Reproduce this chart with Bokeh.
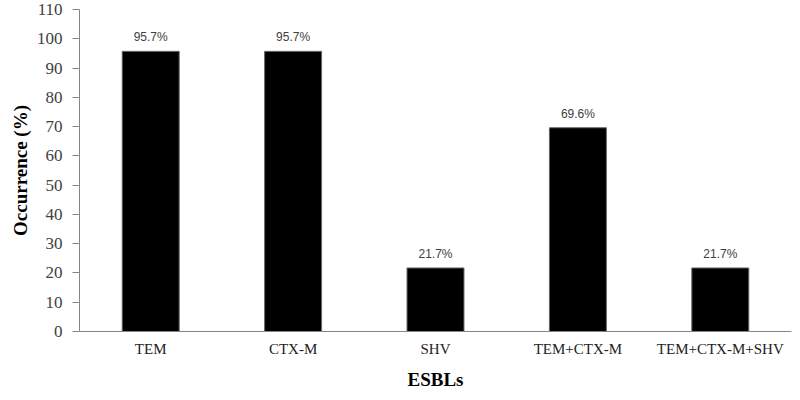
from bokeh.plotting import figure
from bokeh.models import ColumnDataSource, LabelSet, Range1d, FixedTicker
from bokeh.core.properties import value
from bokeh.embed import file_html
from bokeh.resources import INLINE

categories = ["TEM", "CTX-M", "SHV", "TEM+CTX-M", "TEM+CTX-M+SHV"]
values = [95.7, 95.7, 21.7, 69.6, 21.7]
labels = ["95.7%", "95.7%", "21.7%", "69.6%", "21.7%"]
y_ticks = list(range(0, 111, 10))

src = ColumnDataSource(dict(cat=categories, val=values, lab=labels))

p = figure(x_range=categories, y_range=Range1d(0, 110), width=792, height=392,
           output_backend="svg", toolbar_location=None,
           min_border_left=79, min_border_right=1, min_border_top=9, min_border_bottom=56)
p.outline_line_color = None
p.grid.grid_line_color = None
p.background_fill_color = "white"

p.vbar(x="cat", top="val", width=0.4, source=src, fill_color="black", line_color="#666666", line_width=1)

p.add_layout(LabelSet(x="cat", y="val", text="lab", source=src, text_align="center",
                      text_baseline="bottom", y_offset=7, text_font=value("Liberation Sans"),
                      text_font_size=value("12px"), text_color=value("#404040")))

ya = p.yaxis[0]
ya.ticker = FixedTicker(ticks=y_ticks)
ya.minor_tick_line_color = None
ya.axis_line_color = "#868686"
ya.major_tick_line_color = "#868686"
ya.major_tick_out = 7
ya.major_tick_in = 0
ya.major_label_text_font = "Liberation Serif"
ya.major_label_text_font_size = "17px"
ya.major_label_text_color = "#404040"
ya.major_label_standoff = 10
ya.axis_label = "Occurrence (%)"
ya.axis_label_text_font = "Liberation Serif"
ya.axis_label_text_font_style = "bold"
ya.axis_label_text_font_size = "19px"
ya.axis_label_text_color = "black"
ya.axis_label_standoff = 3

xa = p.xaxis[0]
xa.axis_line_color = "#868686"
xa.major_tick_line_color = None
xa.major_tick_out = 0
xa.major_tick_in = 0
xa.minor_tick_line_color = None
xa.minor_tick_out = 0
xa.major_label_text_font = "Liberation Serif"
xa.major_label_text_font_size = "15px"
xa.major_label_text_color = "#222222"
xa.major_label_standoff = 9
xa.axis_label = "ESBLs"
xa.axis_label_text_font = "Liberation Serif"
xa.axis_label_text_font_style = "bold"
xa.axis_label_text_font_size = "19px"
xa.axis_label_text_color = "black"
xa.axis_label_standoff = 9

open("out.html", "w").write(file_html(p, INLINE))
